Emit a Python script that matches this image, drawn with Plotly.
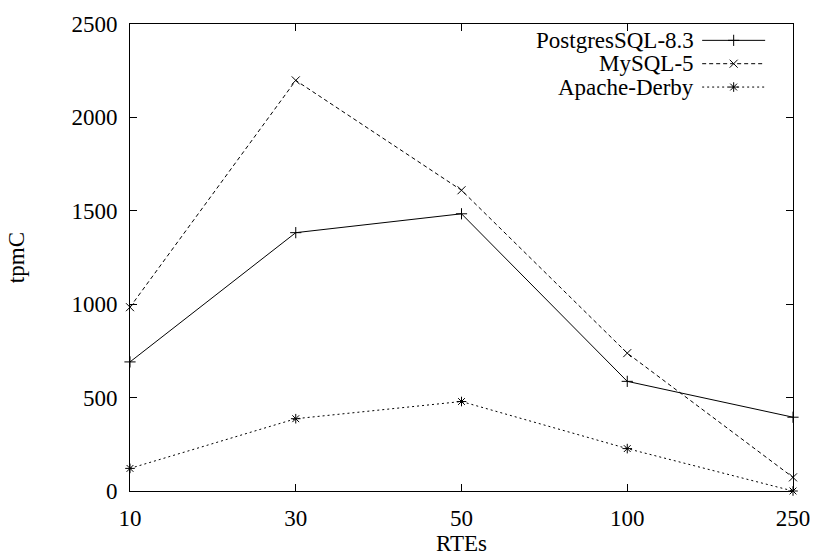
import plotly.graph_objects as go

rtes = ["10", "30", "50", "100", "250"]
postgres = [691, 1383, 1484, 587, 395]
mysql = [984, 2198, 1610, 738, 73]
derby = [121, 387, 479, 227, 0]
series_names = ["PostgresSQL-8.3", "MySQL-5", "Apache-Derby"]
y_ticks = [0, 500, 1000, 1500, 2000, 2500]

FONT = "'Liberation Serif', 'Times New Roman', Times, serif"
FS = 23

styles = [
    dict(dash="solid", symbol="cross-thin"),
    dict(dash="4px,3px", symbol="x-thin"),
    dict(dash="2px,3px", symbol="asterisk-open"),
]

fig = go.Figure()
for name, vals, st in zip(series_names, [postgres, mysql, derby], styles):
    fig.add_trace(go.Scatter(
        x=rtes, y=vals, mode="lines+markers", name=name,
        line=dict(color="black", width=1, dash=st["dash"]),
        marker=dict(symbol=st["symbol"], size=8, color="black",
                    line=dict(color="black", width=1)),
        showlegend=False, cliponaxis=False,
    ))

# manual gnuplot-style legend (text right, sample on the right)
leg_y = [0.965, 0.915, 0.865]
for name, st, ly in zip(series_names, styles, leg_y):
    fig.add_trace(go.Scatter(
        x=[0.863, 0.958], y=[ly, ly], mode="lines", xaxis="x2", yaxis="y2",
        line=dict(color="black", width=1, dash=st["dash"]), showlegend=False,
        hoverinfo="skip"))
    fig.add_trace(go.Scatter(
        x=[0.9105], y=[ly], mode="markers", xaxis="x2", yaxis="y2",
        marker=dict(symbol=st["symbol"], size=8, color="black",
                    line=dict(color="black", width=1)),
        showlegend=False, hoverinfo="skip"))
    fig.add_annotation(x=0.853, y=ly, xref="x2", yref="y2", text=name,
                       showarrow=False, xanchor="right", yanchor="middle",
                       font=dict(family=FONT, size=FS, color="black"))

fig.add_annotation(x=0.5, y=-0.113, xref="paper", yref="paper", text="RTEs",
                   showarrow=False, xanchor="center", yanchor="middle",
                   font=dict(family=FONT, size=FS, color="black"))
fig.add_annotation(x=-0.171, y=0.5, xref="paper", yref="paper", text="tpmC",
                   showarrow=False, textangle=-90, xanchor="center", yanchor="middle",
                   font=dict(family=FONT, size=FS, color="black"))

fig.update_layout(
    width=822, height=558,
    margin=dict(l=130, r=19, t=21, b=67),
    paper_bgcolor="white", plot_bgcolor="white",
    font=dict(family=FONT, size=FS, color="black"),
    xaxis=dict(type="category", range=[0, 4], showgrid=False, zeroline=False,
               showline=True, linecolor="black", linewidth=1, mirror="ticks",
               ticks="inside", ticklen=7, tickcolor="black", tickwidth=1,
               ticklabelstandoff=6),
    yaxis=dict(range=[0, 2500], tickvals=y_ticks, showgrid=False, zeroline=False,
               showline=True, linecolor="black", linewidth=1, mirror="ticks",
               ticks="inside", ticklen=7, tickcolor="black", tickwidth=1,
               ticklabelstandoff=7),
    xaxis2=dict(range=[0, 1], overlaying="x", anchor="y2", visible=False),
    yaxis2=dict(range=[0, 1], overlaying="y", anchor="x2", visible=False),
)

fig.write_html("out.html")
